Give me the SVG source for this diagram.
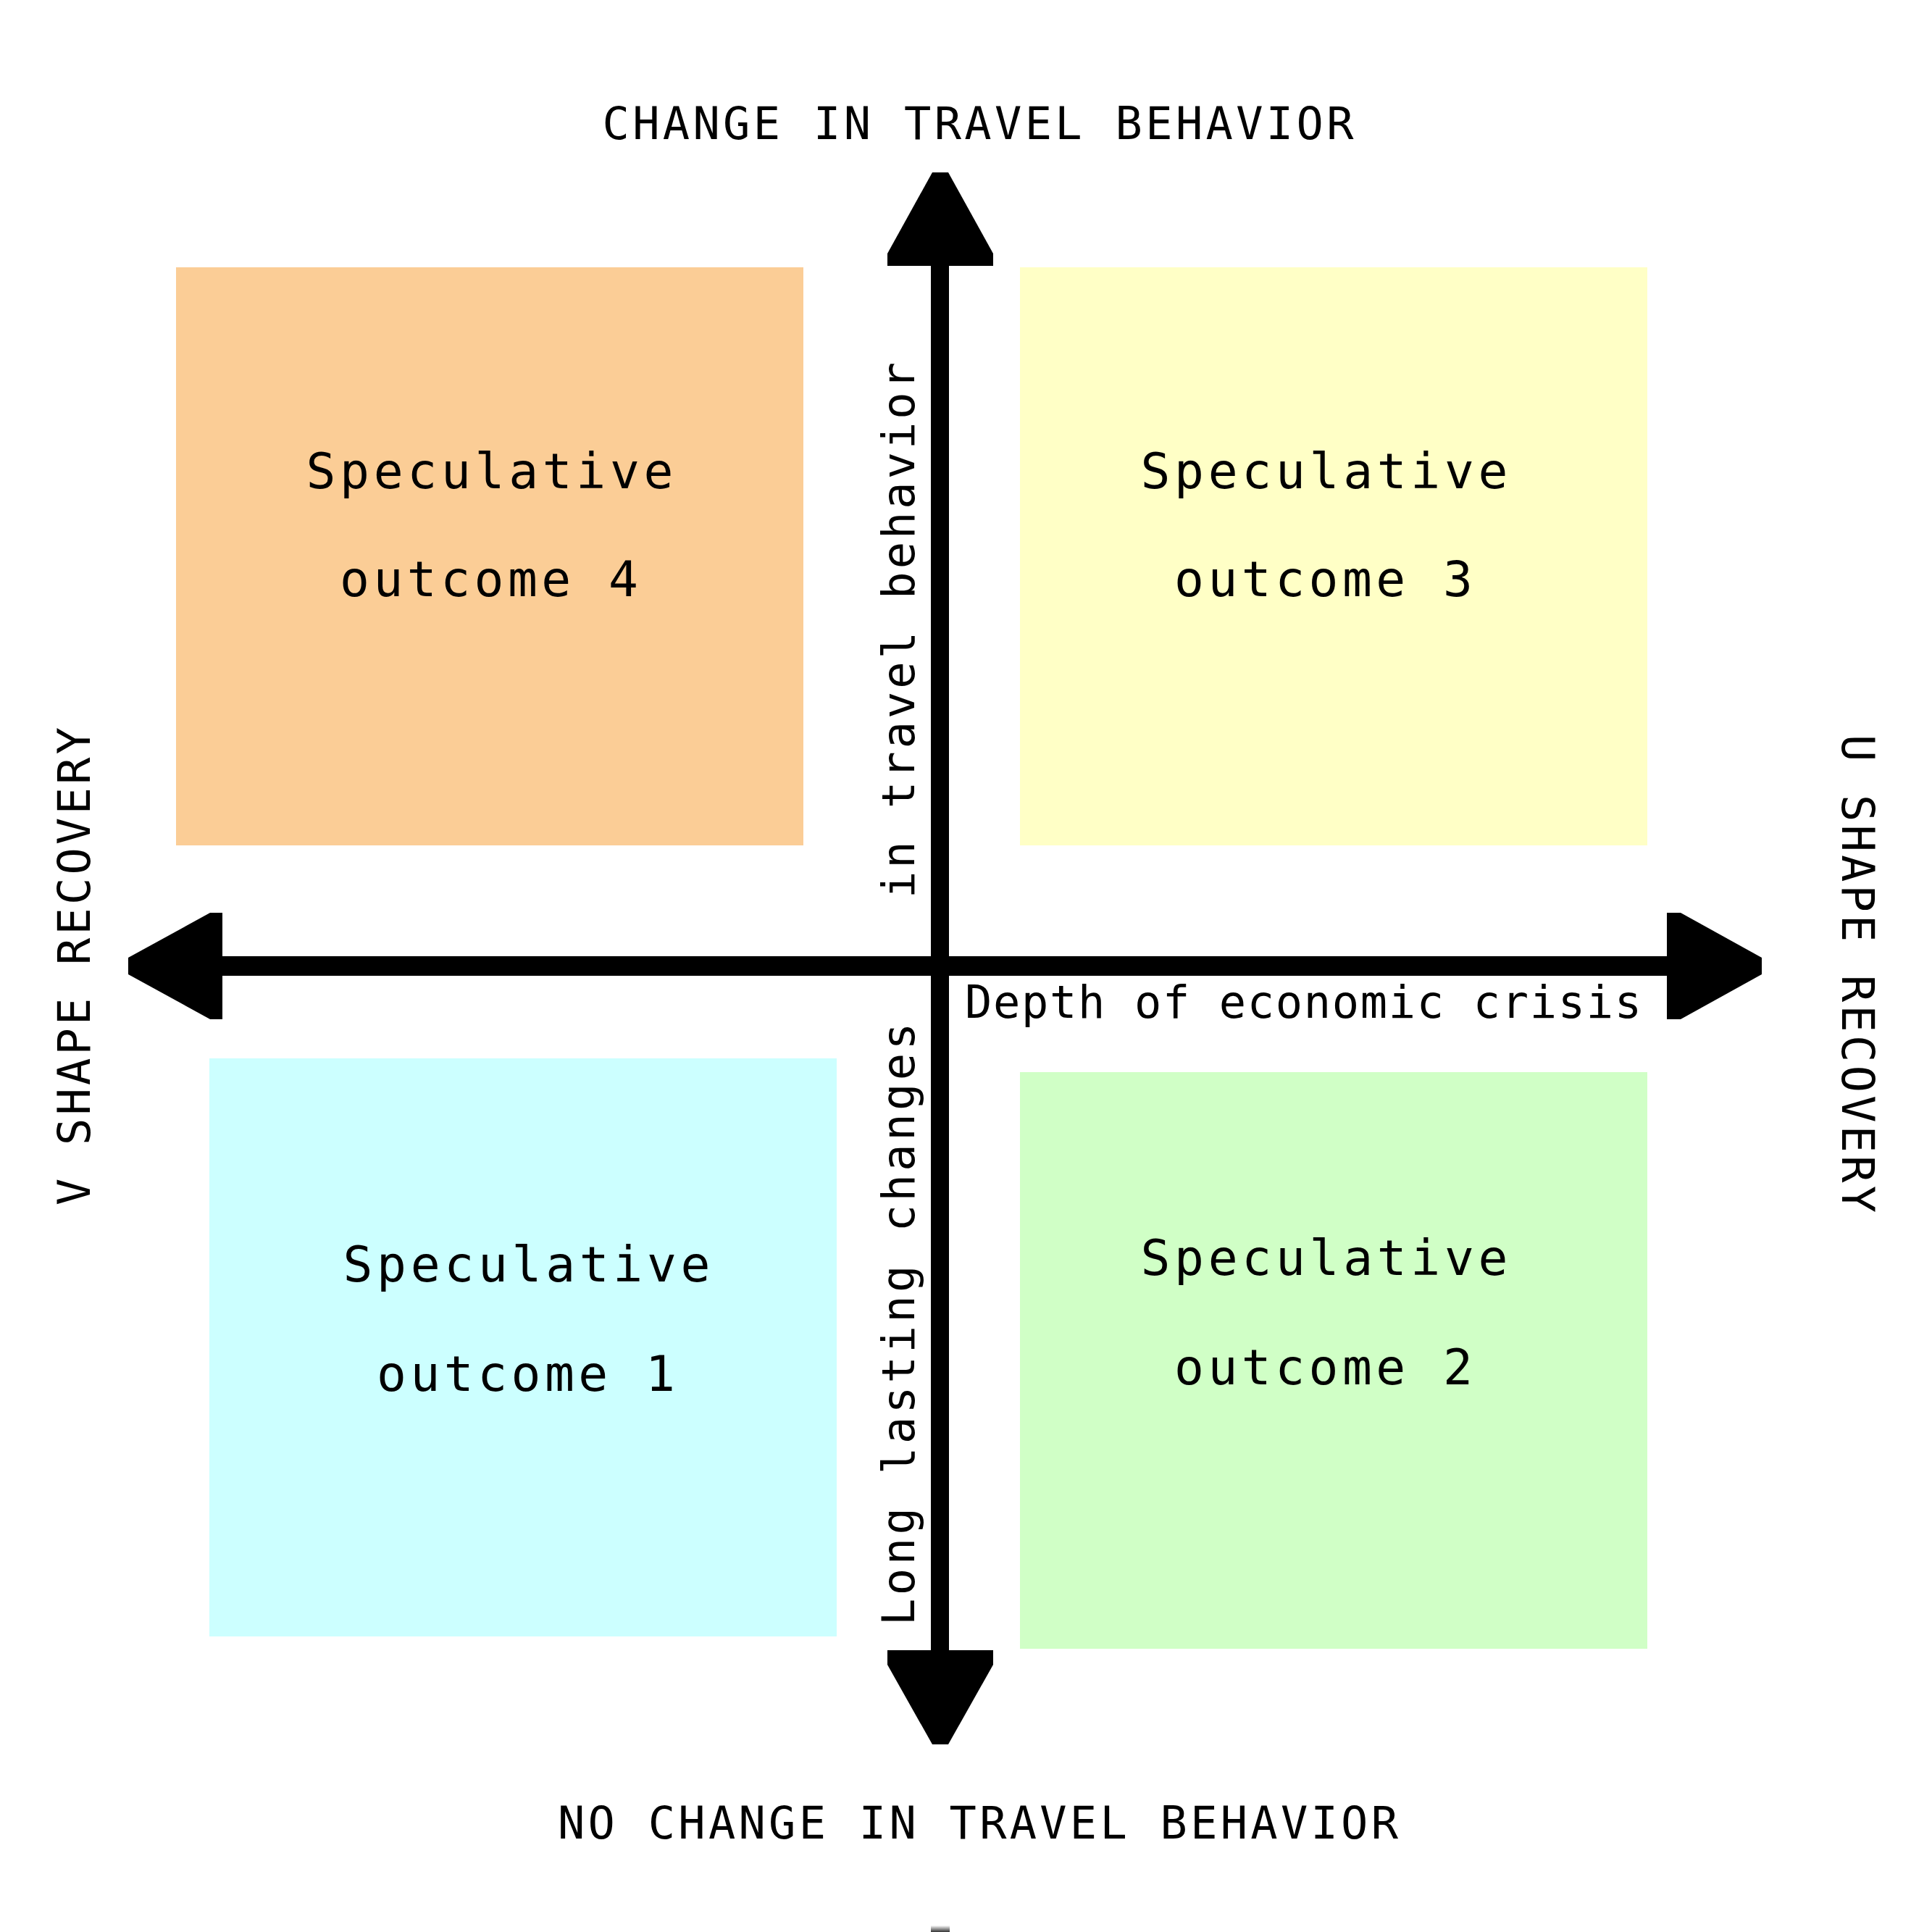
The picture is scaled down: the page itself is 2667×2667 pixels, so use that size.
<svg xmlns="http://www.w3.org/2000/svg" width="2667" height="2667" viewBox="0 0 2667 2667">
<style>
.t{font-family:"DejaVu Sans Mono","Liberation Mono",monospace;fill:#000}
.title{font-size:62px}
.box{font-size:68px}
.ax{font-size:62px}
.head{fill:#000}
</style>
<defs>
<linearGradient id="fade" x1="0" y1="0" x2="0" y2="1">
<stop offset="0" stop-color="#ffffff"/>
<stop offset="1" stop-color="#333333"/>
</linearGradient>
</defs>
<rect width="2667" height="2667" fill="#ffffff"/>
<g id="node-outcome4">
<rect x="243" y="369" width="866" height="798" fill="#FBCD96"/>
<text class="t box" x="676" y="674" text-anchor="middle" textLength="507" lengthAdjust="spacing">Speculative</text>
<text class="t box" x="675" y="823" text-anchor="middle" textLength="412" lengthAdjust="spacing">outcome 4</text>
</g>
<g id="node-outcome3">
<rect x="1408" y="369" width="866" height="798" fill="#FFFFC6"/>
<text class="t box" x="1828" y="674" text-anchor="middle" textLength="507" lengthAdjust="spacing">Speculative</text>
<text class="t box" x="1827" y="823" text-anchor="middle" textLength="412" lengthAdjust="spacing">outcome 3</text>
</g>
<g id="node-outcome1">
<rect x="289" y="1461" width="866" height="798" fill="#CCFFFF"/>
<text class="t box" x="727" y="1769" text-anchor="middle" textLength="507" lengthAdjust="spacing">Speculative</text>
<text class="t box" x="726" y="1920" text-anchor="middle" textLength="412" lengthAdjust="spacing">outcome 1</text>
</g>
<g id="node-outcome2">
<rect x="1408" y="1480" width="866" height="796" fill="#D0FFC6"/>
<text class="t box" x="1828" y="1760" text-anchor="middle" textLength="507" lengthAdjust="spacing">Speculative</text>
<text class="t box" x="1827" y="1911" text-anchor="middle" textLength="412" lengthAdjust="spacing">outcome 2</text>
</g>
<g id="connectors">
<rect x="1285" y="360" width="25" height="1925"/>
<rect x="300" y="1320" width="2005" height="27"/>
<polygon class="head" points="1287,238 1309,238 1371,350 1371,367 1225,367 1225,350"/>
<polygon class="head" points="1225,2278 1371,2278 1371,2298 1309,2408 1287,2408 1225,2298"/>
<polygon class="head" points="177,1322 290,1260 307,1260 307,1407 290,1407 177,1345"/>
<polygon class="head" points="2301,1260 2320,1260 2432,1322 2432,1345 2320,1407 2301,1407"/>
<rect x="1285" y="2658" width="26" height="9" fill="url(#fade)"/>
</g>
<g id="labels">
<text class="t title" x="1350" y="192" text-anchor="middle" textLength="1037" lengthAdjust="spacing">CHANGE IN TRAVEL BEHAVIOR</text>
<text class="t title" x="1350" y="2538" text-anchor="middle" textLength="1160" lengthAdjust="spacing">NO CHANGE IN TRAVEL BEHAVIOR</text>
<text class="t ax" x="1332" y="1405" textLength="934" lengthAdjust="spacing">Depth of economic crisis</text>
<text class="t ax" x="124" y="1334" text-anchor="middle" textLength="660" lengthAdjust="spacing" transform="rotate(-90 124 1334)">V SHAPE RECOVERY</text>
<text class="t ax" x="2543" y="1344" text-anchor="middle" textLength="660" lengthAdjust="spacing" transform="rotate(90 2543 1344)">U SHAPE RECOVERY</text>
<text class="t ax" x="1262" y="870" text-anchor="middle" textLength="740" lengthAdjust="spacing" transform="rotate(-90 1262 870)">in travel behavior</text>
<text class="t ax" x="1262" y="1828" text-anchor="middle" textLength="832" lengthAdjust="spacing" transform="rotate(-90 1262 1828)">Long lasting changes</text>
</g>
</svg>
